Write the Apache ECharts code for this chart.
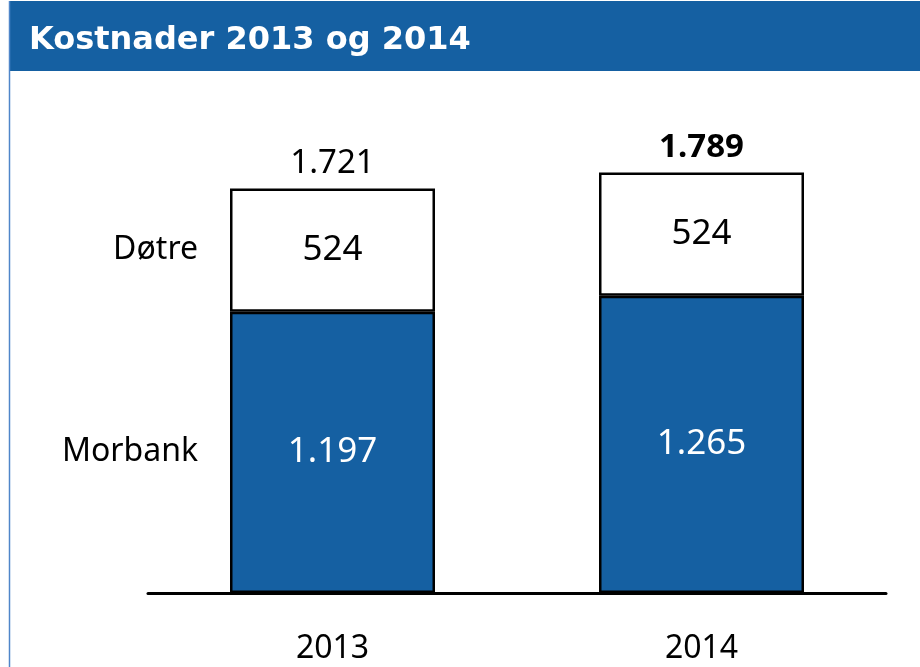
<!DOCTYPE html>
<html>
<head>
<meta charset="utf-8">
<title>Kostnader 2013 og 2014</title>
<script src="https://cdn.jsdelivr.net/npm/echarts@6/dist/echarts.min.js"></script>
<style>
  html, body { margin: 0; padding: 0; background: #fff; }
  #container { width: 920px; height: 667px; }
</style>
</head>
<body>
<div id="container"></div>
<script>
  // data (mill. kr)
  const years = ['2013', '2014'];
  const morbank = [1197, 1265];
  const dotre = [524, 524];
  const totals = [1721, 1789];
  const seriesNames = ['Morbank', 'Døtre'];

  const blue = '#1560a2';
  const barWidth = 205;
  const font = '"Noto Sans", sans-serif';

  // 1197 -> "1.197"
  const fmt = v => String(v).replace(/\B(?=(\d{3})+(?!\d))/g, '.');

  const myChart = echarts.init(document.getElementById('container'), null, { renderer: 'canvas' });

  const nameLabel = (name, y) => ({
    symbol: 'circle',
    symbolSize: 0,
    silent: true,
    data: [{
      coord: [0, y],
      label: {
        show: true,
        position: 'left',
        distance: barWidth / 2 + 32,
        formatter: name,
        color: '#000',
        fontSize: 32,
        fontFamily: font
      }
    }]
  });

  const option = {
    animation: false,
    textStyle: { fontFamily: font },
    graphic: [
      // header bar + frame line
      { type: 'rect', shape: { x: 9, y: 1, width: 911, height: 70 }, style: { fill: blue }, z: -1 },
      { type: 'line', shape: { x1: 9.5, y1: 1, x2: 9.5, y2: 667 }, style: { stroke: '#4f86c9', lineWidth: 1.5 }, z: -1 }
    ],
    title: {
      text: 'Kostnader 2013 og 2014',
      left: 24,
      top: 20,
      textStyle: { color: '#fff', fontSize: 32, fontWeight: 'bold', fontFamily: '"DejaVu Sans", Verdana, sans-serif' }
    },
    grid: { left: 148, right: 34, top: 123, bottom: 74 },
    xAxis: {
      type: 'category',
      data: years,
      axisLine: { lineStyle: { color: '#000', width: 3 } },
      axisTick: { show: false },
      axisLabel: { color: '#000', fontSize: 32, margin: 40, fontFamily: font }
    },
    yAxis: {
      type: 'value',
      min: 0,
      max: 2000,
      show: false,
      splitLine: { show: false }
    },
    series: [
      {
        name: seriesNames[0],
        type: 'bar',
        stack: 'cost',
        barWidth: barWidth,
        data: morbank,
        itemStyle: { color: blue, borderColor: '#000', borderWidth: 2.5 },
        label: { show: true, position: 'inside', color: '#fff', fontSize: 35, fontFamily: font, formatter: p => fmt(p.value) },
        markPoint: nameLabel(seriesNames[0], morbank[0] / 2)
      },
      {
        name: seriesNames[1],
        type: 'bar',
        stack: 'cost',
        barWidth: barWidth,
        data: dotre,
        itemStyle: { color: '#fff', borderColor: '#000', borderWidth: 2.5 },
        label: { show: true, position: 'inside', color: '#000', fontSize: 35, fontFamily: font, formatter: p => fmt(p.value) },
        markPoint: nameLabel(seriesNames[1], morbank[0] + dotre[0] / 2)
      },
      {
        name: 'Sum',
        type: 'scatter',
        symbolSize: 0,
        silent: true,
        itemStyle: { opacity: 1 },
        data: totals.map((v, i) => ({
          value: v,
          label: { fontWeight: i === totals.length - 1 ? 'bold' : 'normal' }
        })),
        label: { show: true, position: 'top', distance: 8, color: '#000', opacity: 1, fontSize: 33, fontFamily: font, formatter: p => fmt(p.value) }
      }
    ]
  };

  myChart.setOption(option);
  window.addEventListener('resize', () => myChart.resize());
</script>
</body>
</html>
